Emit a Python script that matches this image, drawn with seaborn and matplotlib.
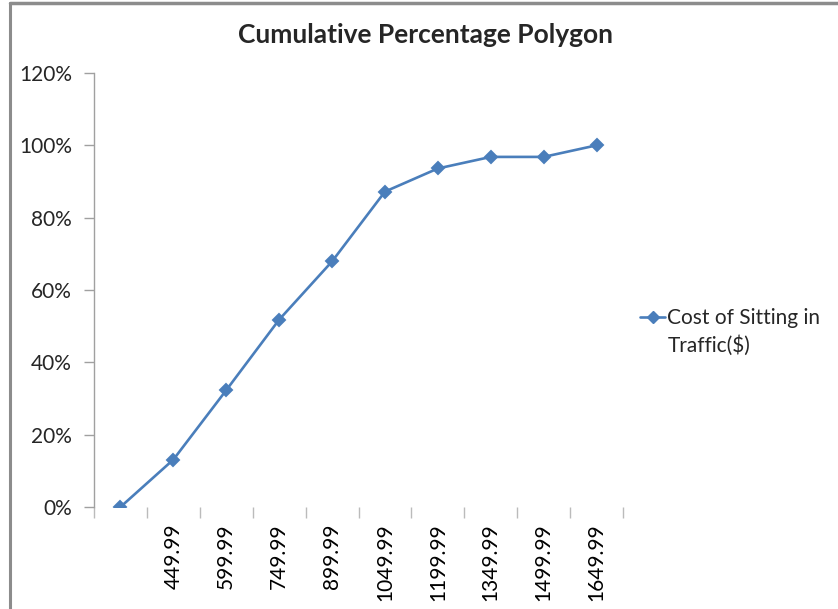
import matplotlib
matplotlib.use("Agg")
import matplotlib.pyplot as plt
import seaborn as sns
import pandas as pd
import numpy as np
from matplotlib.ticker import PercentFormatter, FixedLocator
from matplotlib.lines import Line2D

categories = ["", "449.99", "599.99", "749.99", "899.99", "1049.99",
              "1199.99", "1349.99", "1499.99", "1649.99"]
cum_pct = [0.0, 0.131, 0.323, 0.518, 0.679, 0.872, 0.936, 0.968, 0.968, 1.0]
series_name_l1 = "Cost of Sitting in"
series_name_l2 = "Traffic($)"
title = "Cumulative Percentage Polygon"

sns.set_style("white")
plt.rcParams['font.family'] = ['Lato', 'DejaVu Sans']

df = pd.DataFrame({"cat": categories, "val": cum_pct})

fig = plt.figure(figsize=(8.38, 6.09), dpi=100)
ax = fig.add_axes([94/838, 1-507/609, (623-94)/838, (507-73)/609])

blue = "#4A7EBB"
sns.pointplot(data=df, x="cat", y="val", order=categories, color=blue,
              markers="D", linestyles="-", ax=ax, markersize=6, linewidth=1.9,
              errorbar=None)

ax.set_xlim(-0.5, len(categories) - 0.5)
ax.set_ylim(0, 1.2)
ax.set_yticks(np.arange(0, 1.21, 0.2))
ax.yaxis.set_major_formatter(PercentFormatter(1.0, decimals=0))
ax.set_xlabel("")
ax.set_ylabel("")
fig.text(425/838, 1-35/609, title, fontsize=19, fontweight="bold",
         ha="center", va="center")

for s in ["top", "right", "bottom"]:
    ax.spines[s].set_visible(False)
ax.spines["left"].set_color("#A0A0A0")
ax.spines["left"].set_linewidth(1.0)

ax.set_xticks(range(len(categories)))
ax.set_xticklabels(categories, rotation=90, fontsize=15, color="#000000")
ax.xaxis.set_minor_locator(FixedLocator(np.arange(-0.5, len(categories), 1.0)))
ax.tick_params(axis="x", which="major", length=0, pad=12)
ax.tick_params(axis="x", which="minor", length=8, color="#BBBBBB", width=1.0, bottom=True)
ax.tick_params(axis="y", which="major", length=7, color="#A0A0A0", width=1.0, left=True,
               labelsize=15, pad=9)

handle = Line2D([], [], color=blue, marker="D", markersize=6, linewidth=1.9)
leg = fig.legend([handle], [series_name_l1], loc="center left",
                 bbox_to_anchor=(640/838, 1-318/609), frameon=False, fontsize=15,
                 handlelength=1.2, handletextpad=0.1, borderpad=0, borderaxespad=0)
fig.text(668/838, 1-346/609, series_name_l2, fontsize=15, ha="left", va="center")

# outer chart frame (partial, as cropped)
fig.add_artist(Line2D([10/838, 10/838], [0, 1-3/609], transform=fig.transFigure,
                      color="#8C8C8C", linewidth=2.2))
fig.add_artist(Line2D([10/838, 1], [1-3/609, 1-3/609], transform=fig.transFigure,
                      color="#8C8C8C", linewidth=2.5))

fig.savefig("out.png", dpi=100)
